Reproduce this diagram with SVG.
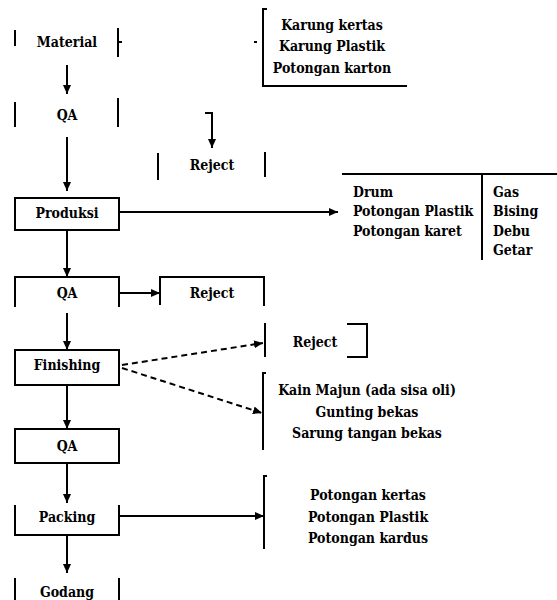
<svg xmlns="http://www.w3.org/2000/svg" width="557" height="600" viewBox="0 0 557 600">
<style>
.b{fill:none;stroke:#000;stroke-width:2}
text{font-family:'DejaVu Serif Condensed','DejaVu Serif',serif;font-weight:bold;font-size:14px;fill:#000}
.m{text-anchor:middle}
.c{fill:none;stroke:#000;stroke-width:2}
.d{fill:none;stroke:#000;stroke-width:2;stroke-dasharray:6,4}
</style>
<defs>
<marker id="ah" markerUnits="userSpaceOnUse" markerWidth="10" markerHeight="10" viewBox="0 0 10 10" refX="9" refY="5" orient="auto">
<path d="M0,1 L9,5 L0,9 Z" fill="#000"/>
</marker>
</defs>
<rect width="557" height="600" fill="#fff"/>
<g id="material">
<path class="b" d="M15 30V46M118 28V57M118 42H122"/>
<text class="m" x="67" y="47">Material</text>
</g>
<g id="qa1">
<path class="b" d="M15 102V127M118 98V127"/>
<text class="m" x="67" y="120">QA</text>
</g>
<g id="reject1">
<path class="b" d="M158 153V180M265 152V177"/>
<text class="m" x="212" y="170">Reject</text>
</g>
<g id="produksi">
<rect class="b" x="15" y="198" width="104" height="32"/>
<text class="m" x="67" y="218">Produksi</text>
</g>
<g id="qa2">
<path class="b" d="M15 307V277H119V307"/>
<text class="m" x="67" y="298">QA</text>
</g>
<g id="reject2">
<path class="b" d="M160 305V277H264V306"/>
<text class="m" x="212" y="298">Reject</text>
</g>
<g id="finishing">
<rect class="b" x="15" y="350" width="104" height="35"/>
<text class="m" x="67" y="370">Finishing</text>
</g>
<g id="qa3">
<rect class="b" x="15" y="429" width="104" height="34"/>
<text class="m" x="67" y="451">QA</text>
</g>
<g id="packing">
<path class="b" d="M15 505V535H119V505"/>
<text class="m" x="67" y="522">Packing</text>
</g>
<g id="godang">
<path class="b" d="M15 578V600M119 578V600"/>
<text class="m" x="67" y="597">Godang</text>
</g>
<g id="waste-material">
<path class="b" d="M267 9H263V86H407"/>
<path class="b" d="M254 42H257"/>
<text class="m" x="332" y="30">Karung kertas</text>
<text class="m" x="332" y="51">Karung Plastik</text>
<text class="m" x="332" y="73">Potongan karton</text>
</g>
<g id="waste-produksi">
<path class="b" d="M342 174H557M482 174V260"/>
<text x="353" y="197">Drum</text>
<text x="353" y="216">Potongan Plastik</text>
<text x="353" y="236">Potongan karet</text>
<text x="493" y="197">Gas</text>
<text x="493" y="216">Bising</text>
<text x="493" y="236">Debu</text>
<text x="493" y="255">Getar</text>
</g>
<g id="reject3">
<path class="b" d="M265 323V357M347 324H367V357H347"/>
<text class="m" x="315" y="347">Reject</text>
</g>
<g id="waste-finishing">
<path class="b" d="M266 373H263V450"/>
<text class="m" x="367" y="395">Kain Majun (ada sisa oli)</text>
<text class="m" x="367" y="417">Gunting bekas</text>
<text class="m" x="367" y="438">Sarung tangan bekas</text>
</g>
<g id="waste-packing">
<path class="b" d="M267 476H264V549"/>
<text class="m" x="368" y="500">Potongan kertas</text>
<text class="m" x="368" y="522">Potongan Plastik</text>
<text class="m" x="368" y="543">Potongan kardus</text>
</g>
<g id="connectors">
<path class="c" d="M67 65V94" marker-end="url(#ah)"/>
<path class="c" d="M67 137V191" marker-end="url(#ah)"/>
<path class="c" d="M205 113H212V148" marker-end="url(#ah)"/>
<path class="c" d="M119 212H338" marker-end="url(#ah)"/>
<path class="c" d="M67 230V277" marker-end="url(#ah)"/>
<path class="c" d="M120 293H160" marker-end="url(#ah)"/>
<path class="c" d="M67 313V350" marker-end="url(#ah)"/>
<path class="d" d="M122 365L263 343" marker-end="url(#ah)"/>
<path class="d" d="M122 368L262 413" marker-end="url(#ah)"/>
<path class="c" d="M67 385V429" marker-end="url(#ah)"/>
<path class="c" d="M67 463V503" marker-end="url(#ah)"/>
<path class="c" d="M120 516H264" marker-end="url(#ah)"/>
<path class="c" d="M67 535V573" marker-end="url(#ah)"/>
</g>
</svg>
